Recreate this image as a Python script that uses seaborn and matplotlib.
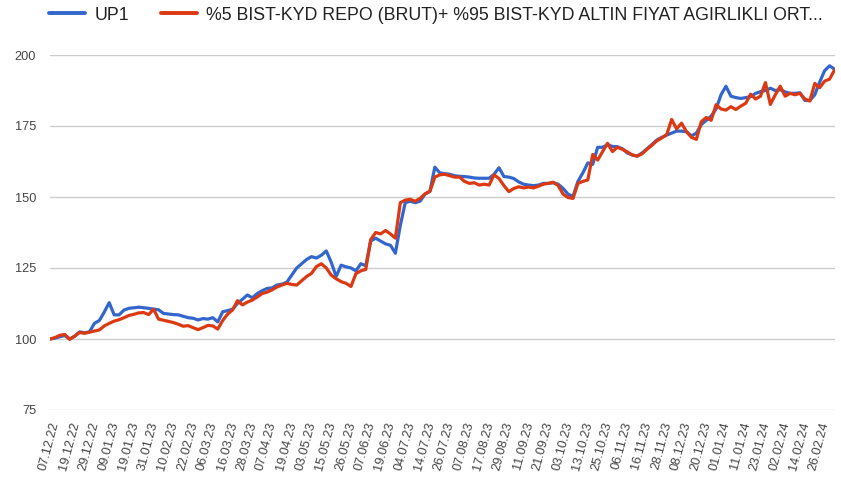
import numpy as np
import pandas as pd
import seaborn as sns
import matplotlib
matplotlib.use("Agg")
import matplotlib.pyplot as plt
from matplotlib.lines import Line2D

tick_labels = ["07.12.22", "19.12.22", "29.12.22", "09.01.23", "19.01.23", "31.01.23",
               "10.02.23", "22.02.23", "06.03.23", "16.03.23", "28.03.23", "07.04.23",
               "19.04.23", "03.05.23", "15.05.23", "26.05.23", "07.06.23", "19.06.23",
               "04.07.23", "14.07.23", "26.07.23", "07.08.23", "17.08.23", "29.08.23",
               "11.09.23", "21.09.23", "03.10.23", "13.10.23", "25.10.23", "06.11.23",
               "16.11.23", "28.11.23", "08.12.23", "20.12.23", "01.01.24", "11.01.24",
               "23.01.24", "02.02.24", "14.02.24", "26.02.24"]

up1 = [100.0, 100.3, 100.8, 101.2, 100.0, 101.0, 102.5, 102.2, 102.5, 105.5,
       106.5, 109.5, 112.8, 108.5, 108.5, 110.2, 110.8, 111.0, 111.2, 111.0,
       110.8, 110.5, 110.3, 109.0, 108.8, 108.6, 108.5, 108.0, 107.5, 107.3,
       106.7, 107.2, 107.0, 107.5, 106.0, 109.6, 110.0, 110.5, 112.5, 114.0,
       115.5, 114.5, 116.0, 117.0, 117.8, 118.0, 119.0, 119.3, 120.0, 122.5,
       125.0, 126.5, 128.0, 129.0, 128.5, 129.5, 131.0, 127.0, 122.0, 126.0,
       125.4, 125.0, 124.0, 126.5, 125.8, 134.5, 135.5, 134.5, 133.5, 133.0,
       130.2, 140.0, 148.0, 148.5, 148.0, 148.5, 151.0, 152.0, 160.5, 158.5,
       158.2, 158.0, 157.5, 157.3, 157.2, 157.0, 156.7, 156.6, 156.6, 156.6,
       158.0, 160.3, 157.2, 157.0, 156.5, 155.3, 154.5, 154.2, 154.0, 154.2,
       154.8, 154.8, 155.0, 154.5, 153.0, 151.0, 150.2, 155.5, 158.5, 162.0,
       161.5, 167.5, 167.5, 168.4, 167.8, 167.7, 167.0, 165.5, 164.8, 164.4,
       165.5, 167.0, 168.5, 170.1, 171.0, 171.8, 172.5, 173.2, 173.2, 173.0,
       171.5, 172.5, 175.5, 177.0, 178.5, 181.0, 186.0, 189.0, 185.5, 185.0,
       184.7, 185.0, 185.3, 186.5, 187.1, 187.5, 188.3, 187.5, 187.8, 187.0,
       186.5, 186.5, 186.7, 184.0, 184.0, 186.0, 190.5, 194.5, 196.2, 195.0]

benchmark = [100.0, 100.5, 101.3, 101.6, 99.9, 101.0, 102.3, 102.0, 102.4, 102.8,
             103.2, 104.6, 105.5, 106.3, 106.8, 107.5, 108.3, 108.7, 109.2, 109.3,
             108.6, 110.5, 107.0, 106.6, 106.2, 105.8, 105.2, 104.5, 104.7, 104.0,
             103.3, 104.0, 104.8, 104.6, 103.5, 106.5, 108.8, 110.2, 113.5, 112.0,
             113.0, 113.7, 114.8, 116.0, 116.5, 117.3, 118.3, 119.0, 119.6, 119.2,
             119.0, 120.5, 122.0, 123.1, 125.5, 126.5, 125.0, 122.5, 121.2, 120.2,
             119.6, 118.5, 123.0, 124.0, 124.5, 135.0, 137.5, 137.0, 138.2, 137.0,
             135.5, 148.0, 148.9, 149.2, 148.5, 149.5, 151.1, 152.0, 157.0, 157.8,
             158.0, 157.5, 157.0, 157.0, 155.5, 154.8, 155.0, 154.2, 154.5, 154.2,
             157.8, 156.5, 154.0, 151.9, 153.0, 153.6, 153.2, 153.5, 153.2, 153.8,
             154.5, 154.8, 155.2, 154.0, 151.0, 149.8, 149.5, 154.8, 155.5, 156.0,
             165.0, 163.0, 166.0, 168.9, 166.0, 167.5, 166.8, 165.9, 164.8, 164.4,
             165.2, 166.8, 168.2, 169.8, 170.8, 172.0, 177.3, 174.0, 176.0, 173.0,
             171.0, 170.3, 176.5, 178.0, 177.0, 182.5, 181.0, 180.6, 181.8, 180.8,
             182.0, 183.0, 186.2, 184.5, 185.5, 190.3, 182.6, 186.0, 189.0, 185.5,
             186.5, 186.0, 186.5, 184.5, 183.8, 190.0, 188.5, 190.8, 191.5, 194.7]

series_names = ["UP1", "%5 BIST-KYD REPO (BRUT)+ %95 BIST-KYD ALTIN FIYAT AGIRLIKLI ORT..."]
yticks = [75, 100, 125, 150, 175, 200]

sns.set_theme(style="white")
plt.rcParams['font.family'] = ['Liberation Sans', 'DejaVu Sans']

n = len(up1)
df = pd.DataFrame({
    "idx": list(range(n)) * 2,
    "value": up1 + benchmark,
    "series": [series_names[0]] * n + [series_names[1]] * n,
})

fig = plt.figure(figsize=(8.41, 4.78), dpi=100)
ax = fig.add_axes([50 / 841, 1 - 410 / 478, 785 / 841, 355 / 478])

palette = {series_names[0]: "#3366CC", series_names[1]: "#DC3912"}
sns.lineplot(data=df, x="idx", y="value", hue="series", palette=palette,
             linewidth=2.3, ax=ax, legend=False)

ax.set_xlim(0, n - 0.9)
ax.set_ylim(75, 200)
ax.set_yticks(yticks)
ax.set_yticklabels([str(v) for v in yticks], color="#444444", fontsize=9.2)
ax.yaxis.grid(True, color="#cccccc", linewidth=1)
ax.xaxis.grid(False)
ax.set_axisbelow(True)
ax.tick_params(axis="y", length=0, pad=10)
ax.tick_params(axis="x", length=0, pad=8)
ax.set_xticks([i * 4 for i in range(len(tick_labels))])
ax.set_xticklabels(tick_labels, rotation=75, ha="right", va="top",
                   rotation_mode="anchor", color="#444444", fontsize=9.2)
ax.set_xlabel("")
ax.set_ylabel("")
for s in ax.spines.values():
    s.set_visible(False)

handles = [Line2D([0], [0], color="#3366CC", lw=2.8),
           Line2D([0], [0], color="#DC3912", lw=2.8)]
leg = fig.legend(handles, series_names, loc="center left",
                 bbox_to_anchor=(33 / 841, 1 - 15 / 478), ncol=2, frameon=False,
                 fontsize=12.8, handlelength=2.0, handletextpad=0.55, columnspacing=1.8,
                 labelcolor="#222222")

fig.savefig("out.png", dpi=100)
